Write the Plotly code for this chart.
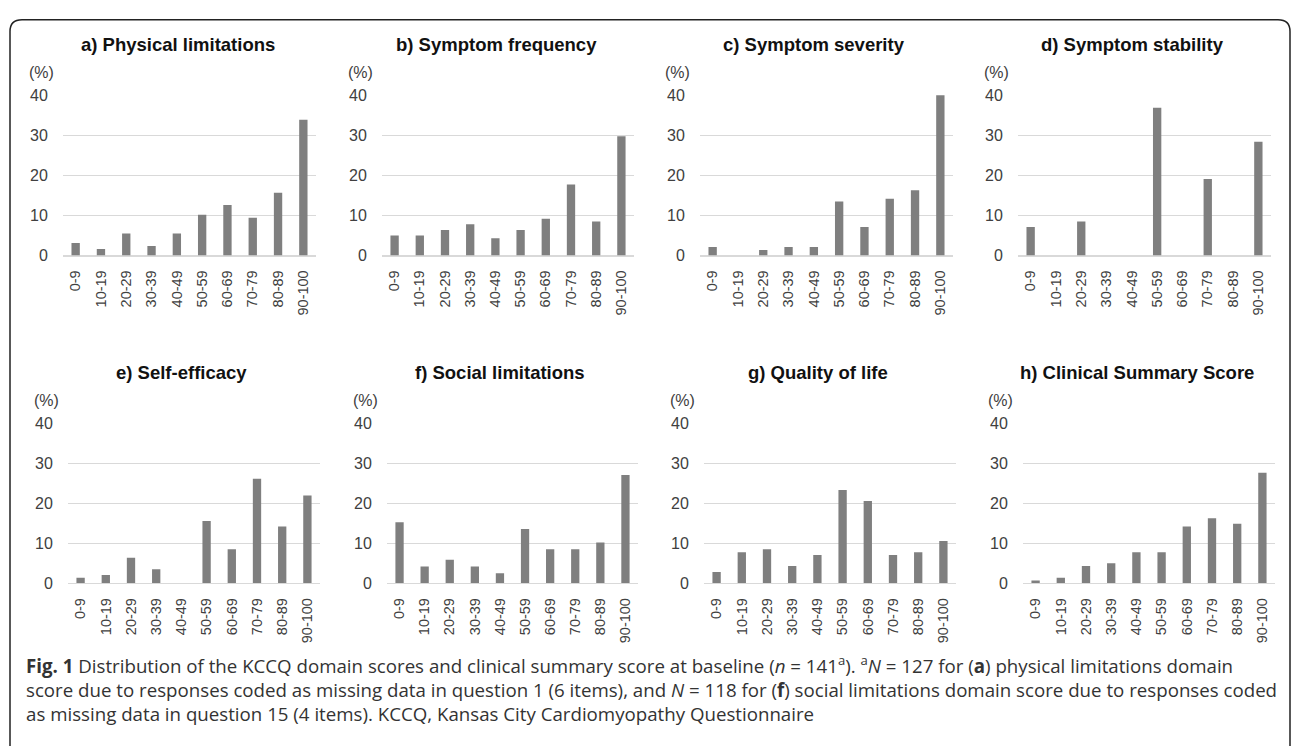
import plotly.graph_objects as go

W, H = 1292, 746

categories = ["0-9", "10-19", "20-29", "30-39", "40-49", "50-59", "60-69", "70-79", "80-89", "90-100"]

physical_limitations = [3.1, 1.6, 5.5, 2.4, 5.5, 10.2, 12.6, 9.4, 15.7, 33.9]
symptom_frequency = [5.0, 5.0, 6.4, 7.8, 4.3, 6.4, 9.2, 17.7, 8.5, 29.8]
symptom_severity = [2.1, 0.0, 1.4, 2.1, 2.1, 13.5, 7.1, 14.2, 16.3, 41.1]
symptom_stability = [7.1, 0.0, 8.5, 0.0, 0.0, 36.9, 0.0, 19.1, 0.0, 28.4]
self_efficacy = [1.4, 2.1, 6.4, 3.5, 0.0, 15.6, 8.5, 26.2, 14.2, 22.0]
social_limitations = [15.3, 4.2, 5.9, 4.2, 2.5, 13.6, 8.5, 8.5, 10.2, 27.1]
quality_of_life = [2.8, 7.8, 8.5, 4.3, 7.1, 23.4, 20.6, 7.1, 7.8, 10.6]
clinical_summary = [0.7, 1.4, 4.3, 5.0, 7.8, 7.8, 14.2, 16.3, 14.9, 27.7]

titles = ["a) Physical limitations", "b) Symptom frequency", "c) Symptom severity",
          "d) Symptom stability", "e) Self-efficacy", "f) Social limitations",
          "g) Quality of life", "h) Clinical Summary Score"]
series = [physical_limitations, symptom_frequency, symptom_severity, symptom_stability,
          self_efficacy, social_limitations, quality_of_life, clinical_summary]
y_ticks = [0, 10, 20, 30, 40]

caption_lines = [
    "<b>Fig. 1</b> Distribution of the KCCQ domain scores and clinical summary score at baseline "
    "(<i>n</i> = 141<sup>a</sup>). <sup>a</sup><i>N</i> = 127 for (<b>a</b>) physical limitations domain",
    "score due to responses coded as missing data in question 1 (6 items), and <i>N</i> = 118 for (<b>f</b>) "
    "social limitations domain score due to responses coded",
    "as missing data in question 15 (4 items). KCCQ, Kansas City Cardiomyopathy Questionnaire",
]

# pixel layout of each panel's plotting area: (left, right, top, bottom)
panels_px = [
    (63, 316, 89.3, 253.3), (382, 634, 89.3, 253.3), (700, 953, 89.3, 253.3), (1018, 1271, 89.3, 253.3),
    (68, 320, 425.3, 588.7), (387, 638, 425.3, 588.7), (704, 956, 425.3, 588.7), (1023, 1275, 425.3, 588.7),
]

def px(x):
    return x / W

def py(y):
    return 1 - y / H

FONT = "Liberation Sans, Arial, sans-serif"
fig = go.Figure()
annotations = []
layout_axes = {}

for i, (vals, title, (l, r, t, b)) in enumerate(zip(series, titles, panels_px)):
    n = i + 1
    xa = "x" if n == 1 else f"x{n}"
    ya = "y" if n == 1 else f"y{n}"
    fig.add_trace(go.Bar(x=categories, y=vals, xaxis=xa, yaxis=ya,
                         marker=dict(color="#7f7f7f", line=dict(width=0)),
                         showlegend=False, hoverinfo="x+y"))
    xkey = "xaxis" if n == 1 else f"xaxis{n}"
    ykey = "yaxis" if n == 1 else f"yaxis{n}"
    layout_axes[xkey] = dict(domain=[px(l), px(r)], anchor=ya, type="category",
                             tickangle=-90, tickfont=dict(family=FONT, size=14.5, color="#404040"),
                             showgrid=False, showline=True, linecolor="#d9d9d9", linewidth=1,
                             ticks="outside", ticklen=8, tickcolor="rgba(0,0,0,0)", fixedrange=True)
    layout_axes[ykey] = dict(domain=[py(b), py(t)], anchor=xa, range=[0, 40],
                             tickvals=y_ticks, tickfont=dict(family=FONT, size=16, color="#404040"),
                             showgrid=True, gridcolor="#d9d9d9", gridwidth=1,
                             zeroline=True, zerolinecolor="#d9d9d9", zerolinewidth=1,
                             showline=False, ticks="outside", ticklen=11, tickcolor="rgba(0,0,0,0)",
                             fixedrange=True)
    cx = (l + r) / 2 - 12
    annotations.append(dict(text=f"<b>{title}</b>", x=px(cx), y=py(t - 52), xref="paper", yref="paper",
                            showarrow=False, xanchor="center", yanchor="middle",
                            font=dict(family=FONT, size=18.5, color="#111111")))
    annotations.append(dict(text="(%)", x=px(l - 22), y=py(t - 23.5), xref="paper", yref="paper",
                            showarrow=False, xanchor="center", yanchor="middle",
                            font=dict(family=FONT, size=16, color="#404040")))

for k, line in enumerate(caption_lines):
    annotations.append(dict(text=line, x=px(24), y=py(672 + 25 * k), xref="paper", yref="paper",
                            showarrow=False, xanchor="left", yanchor="middle", align="left",
                            font=dict(family="Open Sans, sans-serif", size=18.7, color="#333333")))

# rounded border frame (extends beyond bottom edge)
x0, x1, y0, y1, rr = 10, 1290, 12, 770, 12
rx, ry = rr / W, rr / H
X0, X1, Y0, Y1 = px(x0), px(x1), py(y0), py(y1)
path = (f"M {X0+rx},{Y0} L {X1-rx},{Y0} Q {X1},{Y0} {X1},{Y0-ry} "
        f"L {X1},{Y1} L {X0},{Y1} L {X0},{Y0-ry} Q {X0},{Y0} {X0+rx},{Y0} Z")

fig.update_layout(
    width=W, height=H, margin=dict(l=0, r=0, t=0, b=0),
    paper_bgcolor="white", plot_bgcolor="white",
    bargap=0.67, annotations=annotations,
    shapes=[dict(type="path", path=path, xref="paper", yref="paper",
                 line=dict(color="#222222", width=1.5), fillcolor="rgba(0,0,0,0)", layer="below")],
    **layout_axes,
)

fig.write_html("out.html", config={"displayModeBar": False},
               post_script="document.body.style.margin='0px';document.documentElement.style.margin='0px';")
